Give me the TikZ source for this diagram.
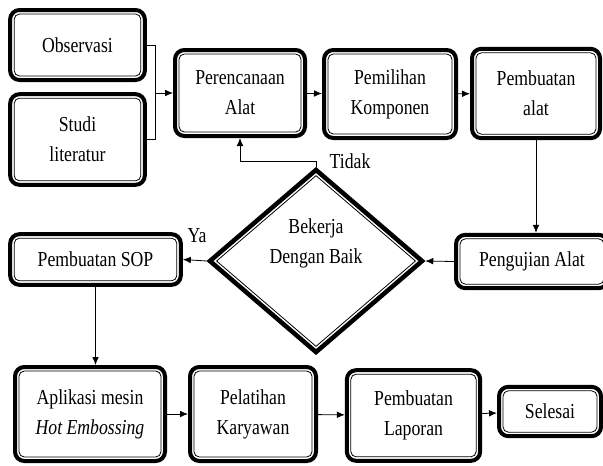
\documentclass[tikz,border=0pt]{standalone}
\usepackage{fontspec}
\setmainfont{Liberation Serif}[FakeStretch=0.83]
\usetikzlibrary{shapes.geometric,arrows.meta,calc}

\begin{document}
\begin{tikzpicture}[x=0.75pt, y=-0.75pt,
            tahap/.style={rectangle, draw, line width=3pt, rounded corners=7pt, align=center, inner sep=2pt,
                font=\fontsize{16}{22.5}\selectfont,
                path picture={\draw[line width=0.6pt, rounded corners=4pt]
                    ([shift={(3pt,3pt)}]path picture bounding box.south west) rectangle
                    ([shift={(-3pt,-3pt)}]path picture bounding box.north east);}},
            keputusan/.style={diamond, draw, line width=3.4pt, align=center, inner sep=0pt,
                minimum width=160.5pt, minimum height=138pt,
                font=\fontsize{16}{22.5}\selectfont,
                path picture={\draw[line width=0.6pt]
                    ($(path picture bounding box.north)+(0pt,-4.3pt)$) --
                    ($(path picture bounding box.east)+(-5pt,0pt)$) --
                    ($(path picture bounding box.south)+(0pt,4.3pt)$) --
                    ($(path picture bounding box.west)+(5pt,0pt)$) -- cycle;}},
            panah/.style={line width=0.6pt, -{Latex[length=6pt,width=5pt]}},
            garis/.style={line width=0.6pt},
            ket/.style={font=\fontsize{16}{20}\selectfont}
        ]
        \useasboundingbox (0,0) rectangle (603,465);

        % Baris 1: Persiapan
        \node[tahap, minimum width=101pt, minimum height=52.5pt] (observasi) at (77.5,45) {Observasi};
        \node[tahap, minimum width=101pt, minimum height=68pt] (studi) at (77.5,139.5) {Studi\\literatur};
        \node[tahap, minimum width=97.5pt, minimum height=64.5pt] (perencanaan) at (240,93) {Perencanaan\\Alat};
        \node[tahap, minimum width=99pt, minimum height=66pt] (pemilihan) at (390,94) {Pemilihan\\Komponen};
        \node[tahap, minimum width=96pt, minimum height=67pt] (pembuatan-alat) at (536,93.5) {Pembuatan\\alat};

        % Baris 2: Pengujian dan Keputusan
        \node[tahap, minimum width=114pt, minimum height=40pt] (pengujian) at (532,261.5) {Pengujian Alat};
        \node[keputusan] (bekerja) at (316,261) {Bekerja\\Dengan Baik\\[8pt]};
        \node[tahap, minimum width=128pt, minimum height=38pt] (sop) at (95.5,259.5) {Pembuatan SOP};

        % Baris 3: Penerapan
        \node[tahap, minimum width=112.5pt, minimum height=70.5pt] (aplikasi) at (90,414) {Aplikasi mesin\\\textit{Hot Embossing}};
        \node[tahap, minimum width=94.5pt, minimum height=70.5pt] (pelatihan) at (253,414) {Pelatihan\\Karyawan};
        \node[tahap, minimum width=100pt, minimum height=68pt] (laporan) at (413.5,415.5) {Pembuatan\\Laporan};
        \node[tahap, minimum width=76.5pt, minimum height=37pt] (selesai) at (550,411.5) {Selesai};

        % Label
        \node[ket] (ya) at (197,236) {Ya};
        \node[ket] (tidak) at (350,161) {Tidak};

        % Conexões
        \coordinate (gabung) at (155,93);
        \draw[garis] (observasi.east) -| (gabung);
        \draw[garis] (studi.east) -| (gabung);
        \draw[panah] (gabung) -- (perencanaan.west);
        \draw[panah] (perencanaan) -- (pemilihan);
        \draw[panah] (pemilihan) -- (pembuatan-alat);
        \draw[panah] (pembuatan-alat.south) -- (pembuatan-alat.south |- pengujian.north);
        \draw[panah] (pengujian.west) -- (bekerja.east);
        \draw[panah] (bekerja.west) -- (sop.east);
        \draw[panah] (bekerja.north) -- ++(0,-5) -| (perencanaan.south);
        \draw[panah] (sop.south) -- (sop.south |- aplikasi.north);
        \draw[panah] (aplikasi) -- (pelatihan);
        \draw[panah] (pelatihan) -- (laporan);
        \draw[panah] (laporan) -- (selesai);

    \end{tikzpicture}
\end{document}
